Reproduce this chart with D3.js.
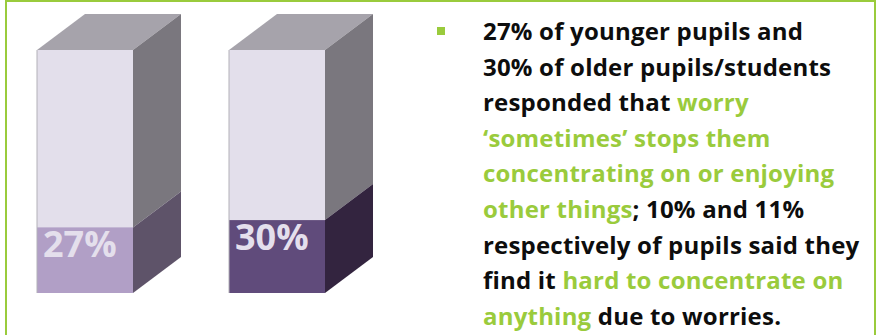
<!DOCTYPE html>
<html>
<head>
<meta charset="utf-8">
<script src="https://cdn.jsdelivr.net/npm/d3@7"></script>
<style>
  html, body { margin: 0; padding: 0; background: #fff; }
  svg { display: block; font-family: "Open Sans", Lato, sans-serif; }
</style>
</head>
<body>
<div id="chart"></div>
<script>
const categories = ['Younger pupils', 'Older pupils/students'];
const values = [27, 30];
const valueLabels = ['27%', '30%'];
const fillFront = ['#b19fc6', '#604b7b'];
const fillSide = ['#5e5369', '#33243f'];

// bullet text, one array of [text, colour key] segments per line
const textLines = [
  [['27% of younger pupils and', 'k']],
  [['30% of older pupils/students', 'k']],
  [['responded that ', 'k'], ['worry', 'g']],
  [['\u2018sometimes\u2019 stops them', 'g']],
  [['concentrating on or enjoying', 'g']],
  [['other things', 'g'], ['; 10% and 11%', 'k']],
  [['respectively of pupils said they', 'k']],
  [['find it ', 'k'], ['hard to concentrate on', 'g']],
  [['anything', 'g'], [' due to worries.', 'k']]
];

const W = 879, H = 335;
const green = '#9acb3c';
const depthX = 48, depthY = 36;

const svg = d3.select('#chart').append('svg')
  .attr('width', W).attr('height', H);

// frame (no bottom edge)
svg.append('path')
  .attr('d', `M6,${H} L6,1 L875,1 L875,${H}`)
  .attr('fill', 'none')
  .attr('stroke', green)
  .attr('stroke-width', 2);

const x = d3.scaleBand()
  .domain(categories)
  .range([37, 325])
  .paddingInner(0.5);

const y = d3.scaleLinear()
  .domain([0, 100])
  .range([293, 50]);

const bars = svg.selectAll('g.bar')
  .data(categories.map((c, i) => ({ c, v: values[i], i })))
  .join('g').attr('class', 'bar');

const bw = x.bandwidth();

// empty part: front, top, side
bars.append('rect')
  .attr('x', d => x(d.c)).attr('y', y(100))
  .attr('width', bw).attr('height', y(0) - y(100))
  .attr('fill', '#e3dfeb');

bars.append('path')
  .attr('d', d => {
    const x0 = x(d.c), t = y(100);
    return `M${x0},${t} L${x0 + depthX},${t - depthY} L${x0 + bw + depthX},${t - depthY} L${x0 + bw},${t} Z`;
  })
  .attr('fill', '#a6a3ab');

bars.append('path')
  .attr('d', d => {
    const x1 = x(d.c) + bw, t = y(100), b = y(d.v);
    return `M${x1},${t} L${x1 + depthX},${t - depthY} L${x1 + depthX},${b - depthY} L${x1},${b} Z`;
  })
  .attr('fill', '#7a777e');

// filled part
bars.append('rect')
  .attr('x', d => x(d.c)).attr('y', d => y(d.v))
  .attr('width', bw).attr('height', d => y(0) - y(d.v))
  .attr('fill', d => fillFront[d.i]);

bars.append('path')
  .attr('d', d => {
    const x1 = x(d.c) + bw, t = y(d.v), b = y(0);
    return `M${x1},${t} L${x1 + depthX},${t - depthY} L${x1 + depthX},${b - depthY} L${x1},${b} Z`;
  })
  .attr('fill', d => fillSide[d.i]);

// thin left edge
bars.append('line')
  .attr('x1', d => x(d.c)).attr('x2', d => x(d.c))
  .attr('y1', y(100)).attr('y2', y(0))
  .attr('stroke', '#b3b1b8').attr('stroke-width', 1);

bars.append('text')
  .attr('x', d => x(d.c) + 6)
  .attr('y', d => y(d.v) + 30)
  .text(d => valueLabels[d.i])
  .attr('fill', '#e4dfec')
  .attr('font-size', 36)
  .attr('font-weight', 'bold');

// bullet
svg.append('rect')
  .attr('x', 437).attr('y', 27).attr('width', 8).attr('height', 8)
  .attr('fill', green);

const txt = svg.append('text')
  .attr('font-size', 24)
  .attr('font-weight', 'bold')
  .attr('letter-spacing', 0.2);

textLines.forEach((line, li) => {
  line.forEach((seg, si) => {
    const ts = txt.append('tspan')
      .text(seg[0])
      .attr('fill', seg[1] === 'g' ? green : '#0d0d0d');
    if (si === 0) ts.attr('x', 483).attr('y', 40 + li * 35.6);
  });
});
txt.style('white-space', 'pre');
</script>
</body>
</html>
